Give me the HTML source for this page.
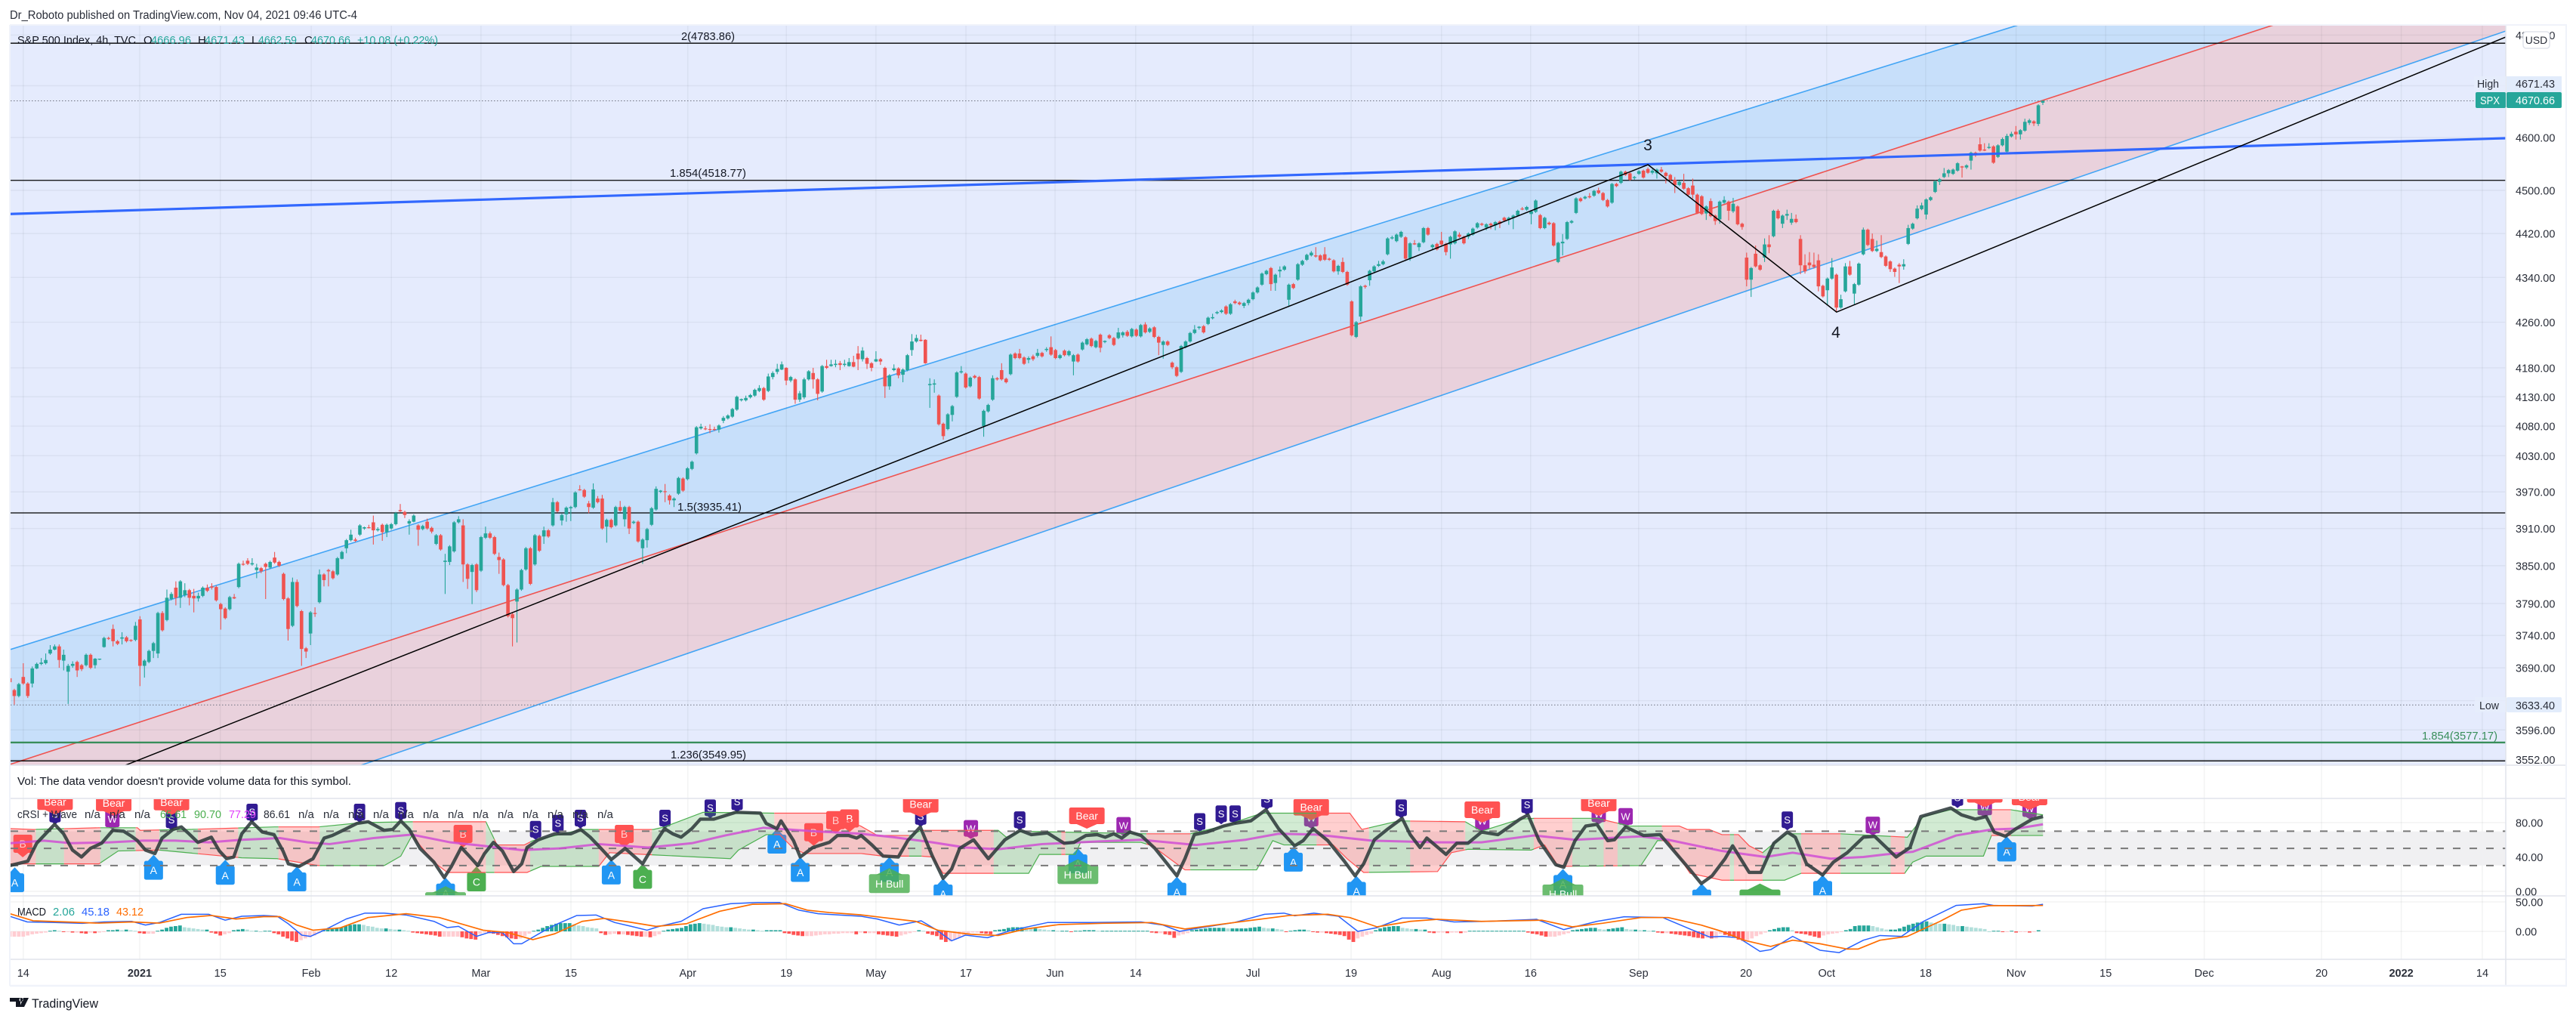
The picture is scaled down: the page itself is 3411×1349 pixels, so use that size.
<!DOCTYPE html>
<html lang="en">
<head>
<meta charset="utf-8">
<title>S&amp;P 500 Index 4h chart</title>
<style>
html,body{margin:0;padding:0;background:#fff;width:3411px;height:1349px;overflow:hidden}
svg{display:block;font-family:"Liberation Sans",sans-serif}
</style>
</head>
<body>
<svg id="chart" xmlns="http://www.w3.org/2000/svg" width="3411" height="1349" viewBox="0 0 3411 1349">
<defs>
<clipPath id="priceClip"><rect x="14" y="34" width="3304" height="979"/></clipPath>
<clipPath id="crsiClip"><rect x="14" y="1058" width="3304" height="128"/></clipPath>
<clipPath id="macdClip"><rect x="14" y="1187" width="3304" height="83"/></clipPath>
</defs>
<rect x="0" y="0" width="3411" height="1349" fill="#ffffff"/>
<text x="13" y="25" font-size="15.5" fill="#2a2e39" textLength="460" lengthAdjust="spacingAndGlyphs">Dr_Roboto published on TradingView.com, Nov 04, 2021 09:46 UTC-4</text>
<rect x="14" y="34" width="3304" height="979" fill="#e5ebfd"/>
<g id="channelLayer" clip-path="url(#priceClip)"></g>
<g id="gridLayer"></g>
<rect x="14" y="1100.7" width="3304" height="45" fill="#f0f0f2"/>
<g id="levelLayer" clip-path="url(#priceClip)"></g>
<g id="candleLayer" clip-path="url(#priceClip)"></g>
<g id="drawingLayer" clip-path="url(#priceClip)"></g>
<g id="crsiLayer" clip-path="url(#crsiClip)"></g>
<g id="macdLayer" clip-path="url(#macdClip)"></g>
<g fill="none" stroke="#e0e3eb" stroke-width="1.5">
<line x1="14" y1="1013" x2="3398" y2="1013"/>
<line x1="14" y1="1057" x2="3398" y2="1057"/>
<line x1="14" y1="1186" x2="3398" y2="1186"/>
<line x1="14" y1="1270" x2="3398" y2="1270"/>
<line x1="3318" y1="34" x2="3318" y2="1304"/>
<line x1="3398" y1="33" x2="3398" y2="1305" stroke="#f0f3fa" stroke-width="2"/>
<line x1="13" y1="33" x2="3399" y2="33" stroke="#f0f3fa" stroke-width="2"/>
<line x1="13" y1="33" x2="13" y2="1305" stroke="#f0f3fa" stroke-width="2"/>
<line x1="13" y1="1305" x2="3399" y2="1305" stroke="#f0f3fa" stroke-width="2.5"/>
</g>
<g id="axisLayer"></g>

<g font-size="15">
<text x="23" y="58" fill="#131722" textLength="157" lengthAdjust="spacingAndGlyphs">S&amp;P 500 Index, 4h, TVC</text>
<text x="190" y="58" fill="#131722">O</text>
<text x="200" y="58" fill="#26a69a" textLength="53" lengthAdjust="spacingAndGlyphs">4666.96</text>
<text x="262" y="58" fill="#131722">H</text>
<text x="271" y="58" fill="#26a69a" textLength="53" lengthAdjust="spacingAndGlyphs">4671.43</text>
<text x="333" y="58" fill="#131722">L</text>
<text x="342" y="58" fill="#26a69a" textLength="51" lengthAdjust="spacingAndGlyphs">4662.59</text>
<text x="403" y="58" fill="#131722">C</text>
<text x="412" y="58" fill="#26a69a" textLength="52" lengthAdjust="spacingAndGlyphs">4670.66</text>
<text x="473" y="58" fill="#26a69a" textLength="107" lengthAdjust="spacingAndGlyphs">+10.08 (+0.22%)</text>
</g>

<g font-size="15" fill="#131722">
<text x="902" y="53" textLength="71" lengthAdjust="spacingAndGlyphs">2(4783.86)</text>
<text x="887" y="234" textLength="101" lengthAdjust="spacingAndGlyphs">1.854(4518.77)</text>
<text x="897" y="676" textLength="85" lengthAdjust="spacingAndGlyphs">1.5(3935.41)</text>
<text x="888" y="1004" textLength="100" lengthAdjust="spacingAndGlyphs">1.236(3549.95)</text>
<text x="3207" y="979" fill="#388e5a" textLength="100" lengthAdjust="spacingAndGlyphs">1.854(3577.17)</text>
</g>
<text x="2182" y="199" font-size="21" fill="#131722" text-anchor="middle">3</text>
<text x="2431" y="447" font-size="21" fill="#131722" text-anchor="middle">4</text>

<text x="23" y="1039" font-size="15" fill="#131722" textLength="442" lengthAdjust="spacingAndGlyphs">Vol: The data vendor doesn't provide volume data for this symbol.</text>

<g font-size="15" fill="#2a2e39">
<text x="23" y="1083" textLength="79" lengthAdjust="spacingAndGlyphs">cRSI + Wave</text>
<text x="112" y="1083">n/a</text>
<text x="145" y="1083">n/a</text>
<text x="178" y="1083">n/a</text>
<text x="212" y="1083" fill="#4caf50" textLength="35" lengthAdjust="spacingAndGlyphs">65.61</text>
<text x="257" y="1083" fill="#4caf50" textLength="36" lengthAdjust="spacingAndGlyphs">90.70</text>
<text x="303" y="1083" fill="#e040fb" textLength="36" lengthAdjust="spacingAndGlyphs">77.29</text>
<text x="349" y="1083" textLength="35" lengthAdjust="spacingAndGlyphs">86.61</text>
<text x="395" y="1083">n/a</text>
<text x="428" y="1083">n/a</text>
<text x="461" y="1083">n/a</text>
<text x="494" y="1083">n/a</text>
<text x="527" y="1083">n/a</text>
<text x="560" y="1083">n/a</text>
<text x="593" y="1083">n/a</text>
<text x="626" y="1083">n/a</text>
<text x="659" y="1083">n/a</text>
<text x="692" y="1083">n/a</text>
<text x="725" y="1083">n/a</text>
<text x="758" y="1083">n/a</text>
<text x="791" y="1083">n/a</text>
</g>

<g font-size="15">
<text x="23" y="1212" fill="#131722" textLength="38" lengthAdjust="spacingAndGlyphs">MACD</text>
<text x="70" y="1212" fill="#26a69a" textLength="29" lengthAdjust="spacingAndGlyphs">2.06</text>
<text x="108" y="1212" fill="#2962ff" textLength="37" lengthAdjust="spacingAndGlyphs">45.18</text>
<text x="154" y="1212" fill="#ff6d00" textLength="36" lengthAdjust="spacingAndGlyphs">43.12</text>
</g>

<g font-size="14.5">
<rect x="3276" y="101" width="42" height="21" fill="#e6eefb" opacity=".8"/>
<text x="3280" y="116" fill="#2a2e39" textLength="29" lengthAdjust="spacingAndGlyphs">High</text>
<rect x="3319" y="101" width="73" height="21" fill="#e2ecfb"/>
<text x="3331" y="116" fill="#2a2e39" textLength="52" lengthAdjust="spacingAndGlyphs">4671.43</text>
<rect x="3278" y="122" width="40" height="21" rx="2" fill="#26a69a"/>
<text x="3284" y="138" fill="#ffffff" textLength="26" lengthAdjust="spacingAndGlyphs">SPX</text>
<rect x="3319" y="122" width="73" height="21" rx="2" fill="#26a69a"/>
<text x="3331" y="138" fill="#ffffff" textLength="52" lengthAdjust="spacingAndGlyphs">4670.66</text>
<rect x="3277" y="923" width="41" height="20" fill="#e6eefb" opacity=".8"/>
<text x="3283" y="939" fill="#2a2e39" textLength="26" lengthAdjust="spacingAndGlyphs">Low</text>
<rect x="3319" y="923" width="73" height="20" rx="2" fill="#e2ecfb"/>
<text x="3331" y="939" fill="#2a2e39" textLength="52" lengthAdjust="spacingAndGlyphs">3633.40</text>
<rect x="3341" y="42" width="35" height="22" rx="4" fill="#ffffff" stroke="#e0e3eb" stroke-width="1.5"/>
<text x="3358.5" y="58" text-anchor="middle" font-size="14" fill="#2a2e39">USD</text>
</g>

<g>
<path d="M13 1321H27V1333H21V1326H13ZM31 1321H38L32 1333H26ZM28 1321a2.5 2.5 0 1 0 .1 0Z" fill="#131722"/>
<text x="42" y="1334" font-size="17" fill="#131722" textLength="88" lengthAdjust="spacingAndGlyphs">TradingView</text>
</g>
</svg>

<script>
/* ---------- chart data, values ---------- */
const ohlcDecToJan=[
[3674,3680,3664,3668],[3656,3658,3634,3647],[3647,3667,3645,3665],[3676,3697,3664,3666],[3666,3668,3644,3647],[3666,3692,3660,3689],[3689,3698,3688,3696],[3696,3705,3694,3698],[3697,3712,3695,3702],[3712,3725,3710,3718],[3718,3726,3717,3723],[3723,3726,3690,3702],[3701,3718,3686,3710],[3684,3696,3635,3693],[3693,3700,3690,3696],[3699,3701,3676,3686],[3694,3696,3685,3688],[3694,3712,3692,3710],[3710,3712,3688,3690],[3694,3705,3689,3704],[3703,3704,3702,3704],[3722,3738,3721,3736],[3736,3738,3733,3735],[3750,3757,3723,3731],[3731,3733,3725,3727],[3735,3745,3726,3737],[3737,3739,3729,3731],[3733,3734,3730,3732],[3733,3761,3731,3755],[3765,3770,3662,3693],[3693,3703,3675,3701],[3699,3718,3697,3716],[3716,3730,3705,3728],[3712,3777,3705,3775],[3775,3778,3746,3748],[3764,3812,3762,3799],[3797,3808,3795,3805],[3815,3825,3787,3799],[3799,3827,3783,3825],[3803,3822,3800,3811],[3811,3813,3787,3799],[3802,3813,3776,3798],[3798,3807,3793,3802],[3802,3817,3800,3815],[3815,3820,3808,3810],[3817,3822,3812,3815],[3816,3818,3793,3795],[3789,3791,3749,3781],[3782,3784,3765,3767],[3781,3802,3779,3800],[3800,3805,3797,3798],[3816,3855,3814,3853],[3853,3858,3850,3852],[3858,3862,3851,3853],[3852,3862,3850,3854],[3843,3853,3830,3847],[3846,3848,3838,3841],[3853,3855,3797,3848],[3847,3858,3845,3856],[3863,3872,3853,3855],[3856,3858,3848,3850],[3837,3839,3795,3797],[3798,3800,3732,3750],[3755,3831,3753,3824],[3824,3828,3784,3786],[3778,3780,3693,3719],[3720,3722,3705,3715]];
const ohlcFebToMar=[
[3743,3778,3725,3776],[3775,3784,3769,3774],[3792,3844,3790,3836],[3836,3838,3817,3827],[3843,3845,3817,3841],[3841,3843,3828,3830],[3836,3864,3834,3862],[3861,3874,3860,3872],[3878,3893,3870,3891],[3891,3908,3889,3900],[3892,3895,3888,3890],[3900,3917,3898,3915],[3910,3913,3908,3912],[3912,3916,3910,3911],[3920,3931,3884,3907],[3907,3912,3905,3909],[3916,3918,3890,3904],[3904,3918,3896,3916],[3910,3919,3908,3917],[3917,3937,3915,3935],[3940,3950,3937,3938],[3937,3939,3927,3932],[3918,3925,3900,3922],[3921,3933,3920,3931],[3915,3917,3882,3908],[3909,3916,3907,3914],[3921,3926,3908,3910],[3911,3913,3902,3905],[3885,3901,3883,3899],[3899,3901,3874,3876],[3856,3869,3805,3858],[3856,3883,3851,3881],[3873,3922,3871,3920],[3920,3930,3918,3925],[3915,3925,3824,3852],[3852,3854,3813,3829],[3840,3853,3789,3851],[3852,3854,3808,3811],[3842,3898,3840,3896],[3895,3913,3893,3902],[3902,3905,3893,3895],[3896,3898,3867,3869],[3864,3871,3837,3859],[3860,3862,3817,3819],[3819,3821,3768,3770],[3773,3775,3723,3767],[3793,3814,3729,3812],[3812,3845,3810,3843],[3844,3880,3842,3878],[3878,3880,3819,3821],[3852,3901,3850,3899],[3898,3900,3872,3874],[3897,3913,3885,3907],[3907,3909,3895,3897]];
const ohlcMarToApr=[
[3915,3960,3913,3953],[3953,3955,3936,3938],[3923,3934,3915,3932],[3933,3946,3921,3944],[3943,3947,3922,3945],[3945,3971,3943,3969],[3974,3981,3972,3973],[3973,3975,3960,3962],[3951,3955,3935,3945],[3944,3984,3942,3974],[3959,3963,3951,3953],[3959,3965,3908,3910],[3913,3926,3887,3924],[3924,3926,3910,3912],[3915,3947,3913,3945],[3945,3955,3937,3939],[3925,3947,3913,3945],[3945,3947,3901,3910],[3919,3923,3917,3921],[3921,3923,3887,3889],[3878,3894,3853,3892],[3891,3911,3879,3909],[3916,3945,3914,3943],[3941,3979,3939,3975],[3970,3973,3968,3972],[3971,3983,3953,3970],[3964,3966,3949,3956],[3956,3961,3945,3959],[3967,3995,3965,3993],[3992,3994,3970,3972],[3991,4011,3989,4009],[4008,4022,4006,4020],[4034,4080,4032,4078],[4076,4084,4074,4079],[4076,4080,4073,4075],[4075,4083,4068,4074],[4075,4079,4072,4074],[4074,4083,4069,4081],[4089,4097,4085,4094],[4093,4100,4091,4098],[4096,4111,4094,4109],[4108,4132,4106,4130],[4124,4127,4122,4126],[4124,4132,4122,4128],[4129,4135,4127,4133],[4132,4144,4130,4142],[4140,4150,4138,4145],[4145,4147,4123,4125],[4140,4170,4138,4165]];
const ohlcAprToMay=[
[4164,4174,4160,4171],[4173,4187,4169,4178],[4177,4191,4176,4186],[4180,4181,4150,4158],[4158,4166,4155,4164],[4160,4162,4118,4125],[4125,4140,4121,4136],[4129,4163,4126,4160],[4160,4176,4158,4174],[4171,4180,4144,4160],[4160,4162,4124,4135],[4139,4185,4137,4183],[4183,4194,4178,4180],[4183,4194,4182,4186],[4185,4194,4181,4187],[4188,4192,4176,4185],[4185,4194,4182,4187],[4183,4197,4182,4190],[4190,4201,4181,4182],[4205,4218,4176,4195],[4195,4216,4191,4210],[4197,4199,4178,4187],[4188,4190,4174,4180],[4191,4209,4190,4195],[4195,4197,4185,4191],[4180,4182,4128,4148],[4148,4169,4142,4167],[4176,4186,4174,4179],[4179,4181,4162,4167],[4168,4179,4155,4177],[4176,4204,4174,4202],[4211,4239,4201,4226],[4226,4238,4224,4232],[4229,4238,4226,4227],[4229,4230,4187,4188],[4150,4162,4111,4152],[4151,4160,4137,4153],[4132,4134,4081,4083],[4084,4086,4057,4063],[4075,4102,4073,4100],[4099,4116,4088,4114],[4130,4174,4128,4172],[4172,4183,4170,4174],[4170,4172,4144,4146],[4148,4165,4146,4163],[4166,4168,4161,4163],[4164,4166,4125,4127],[4080,4108,4062,4106],[4105,4118,4103,4116],[4125,4167,4123,4162],[4162,4164,4158,4160],[4176,4188,4158,4160],[4161,4163,4153,4155]];
const ohlcJunToJul=[
[4169,4205,4167,4203],[4205,4207,4195,4197],[4205,4213,4195,4197],[4198,4200,4185,4187],[4194,4200,4188,4197],[4200,4203,4192,4195],[4201,4213,4198,4206],[4206,4208,4198,4200],[4211,4216,4208,4213],[4216,4235,4201,4203],[4211,4213,4195,4197],[4197,4204,4195,4202],[4210,4212,4200,4202],[4202,4211,4200,4209],[4191,4204,4167,4202],[4203,4205,4189,4191],[4212,4226,4210,4224],[4221,4232,4219,4230],[4231,4233,4216,4218],[4216,4229,4214,4227],[4238,4240,4207,4215],[4225,4228,4223,4227],[4237,4239,4230,4232],[4232,4234,4218,4220],[4232,4250,4230,4242],[4237,4244,4233,4242],[4243,4246,4234,4236],[4235,4250,4233,4248],[4247,4249,4234,4236],[4235,4257,4233,4255],[4256,4260,4240,4242],[4243,4251,4241,4249],[4251,4253,4232,4234],[4234,4236,4202,4224],[4220,4228,4196,4226],[4226,4228,4218,4220],[4189,4191,4178,4181],[4181,4183,4164,4166],[4173,4220,4171,4218],[4216,4228,4214,4226],[4226,4243,4224,4241],[4241,4255,4239,4247],[4250,4253,4247,4252],[4253,4255,4240,4242],[4257,4270,4255,4268],[4267,4275,4265,4269],[4276,4280,4274,4278],[4278,4283,4276,4281],[4288,4290,4273,4275],[4275,4294,4273,4292],[4297,4300,4292,4294],[4295,4297,4290,4292],[4289,4296,4285,4294],[4294,4302,4290,4300],[4301,4315,4299,4313],[4313,4324,4311,4322],[4327,4349,4325,4347],[4346,4354,4344,4352],[4357,4359,4316,4328],[4330,4347,4316,4345],[4351,4360,4340,4354],[4354,4362,4352,4360],[4300,4329,4288,4327],[4328,4330,4319,4321],[4336,4366,4334,4364],[4363,4372,4361,4370],[4372,4383,4370,4381],[4380,4388,4378,4385],[4380,4395,4376,4378],[4380,4382,4369,4371],[4382,4395,4370,4372],[4374,4376,4370,4372],[4371,4373,4349,4351],[4351,4363,4345,4361],[4368,4376,4348,4350],[4350,4352,4325,4327],[4297,4299,4235,4237]];
const ohlcJulToSep=[
[4234,4262,4232,4260],[4270,4326,4262,4324],[4325,4327,4320,4323],[4335,4354,4325,4352],[4351,4362,4349,4360],[4361,4370,4359,4364],[4364,4372,4362,4369],[4382,4413,4380,4411],[4411,4416,4409,4413],[4406,4420,4404,4418],[4414,4425,4412,4423],[4413,4415,4372,4374],[4375,4404,4370,4402],[4402,4408,4399,4400],[4395,4404,4388,4402],[4404,4432,4402,4430],[4430,4432,4416,4418],[4395,4401,4390,4399],[4401,4403,4389,4391],[4407,4423,4398,4400],[4401,4403,4380,4386],[4400,4416,4374,4414],[4402,4426,4400,4424],[4418,4422,4412,4414],[4414,4416,4400,4402],[4414,4422,4410,4420],[4418,4431,4416,4429],[4431,4441,4429,4439],[4438,4440,4434,4436],[4431,4439,4426,4437],[4438,4440,4428,4435],[4435,4443,4426,4441],[4442,4444,4430,4438],[4449,4451,4442,4444],[4445,4451,4436,4449],[4449,4455,4428,4453],[4453,4464,4451,4462],[4466,4469,4463,4465],[4464,4471,4462,4469],[4456,4463,4437,4461],[4460,4483,4458,4481],[4454,4456,4428,4430],[4430,4451,4428,4449],[4440,4442,4435,4437],[4439,4441,4396,4398],[4368,4405,4366,4403],[4402,4419,4380,4405],[4410,4443,4408,4441],[4440,4445,4438,4443],[4458,4487,4456,4485],[4485,4487,4478,4480],[4485,4490,4483,4488],[4489,4495,4485,4487],[4490,4501,4488,4499],[4500,4505,4493,4495],[4495,4497,4480,4482],[4482,4484,4468,4470],[4477,4514,4475,4512],[4512,4514,4506,4508],[4514,4537,4512,4535],[4535,4537,4527,4529],[4532,4534,4518,4520],[4523,4527,4520,4525],[4531,4538,4529,4536],[4537,4539,4522,4524],[4540,4543,4531,4533]];
const ohlcSepToNov=[
[4533,4540,4530,4537],[4532,4541,4522,4539],[4539,4544,4533,4535],[4533,4535,4513,4527],[4529,4531,4518,4520],[4520,4525,4495,4510],[4510,4518,4508,4516],[4514,4531,4501,4503],[4504,4506,4490,4492],[4509,4522,4485,4492],[4492,4494,4456,4458],[4489,4491,4454,4456],[4457,4472,4445,4470],[4480,4485,4450,4452],[4453,4455,4436,4443],[4446,4481,4438,4479],[4477,4489,4475,4482],[4479,4481,4444,4462],[4461,4486,4458,4475],[4470,4472,4435,4437],[4438,4440,4427,4432],[4376,4385,4324,4336],[4336,4359,4305,4357],[4383,4398,4358,4360],[4362,4364,4352,4354],[4376,4411,4368,4400],[4400,4417,4384,4395],[4415,4464,4413,4462],[4462,4465,4446,4448],[4438,4455,4430,4453],[4453,4464,4445,4456],[4440,4458,4436,4447],[4447,4455,4439,4441],[4410,4417,4346,4362],[4362,4382,4347,4351],[4367,4386,4355,4362],[4363,4385,4356,4359],[4371,4382,4315,4324],[4325,4327,4304,4306],[4317,4340,4290,4338],[4338,4375,4336,4358],[4345,4347,4278,4286],[4286,4309,4284,4301],[4315,4366,4313,4360],[4360,4370,4343,4345],[4311,4330,4292,4328],[4327,4367,4325,4365],[4382,4431,4380,4427],[4427,4429,4397,4399],[4410,4420,4386,4388],[4388,4407,4386,4392],[4386,4417,4375,4377],[4378,4380,4359,4361],[4369,4371,4350,4355],[4356,4358,4341,4350],[4363,4366,4330,4360],[4360,4373,4354,4364],[4401,4436,4399,4430],[4429,4440,4427,4438],[4448,4472,4446,4466],[4465,4477,4463,4472],[4455,4485,4446,4483],[4482,4489,4480,4487],[4497,4519,4495,4517],[4516,4523,4510,4521],[4525,4542,4523,4532],[4532,4540,4525,4538],[4531,4541,4529,4539],[4537,4553,4535,4551],[4545,4546,4524,4543],[4543,4549,4540,4547],[4556,4573,4539,4571],[4571,4573,4563,4567],[4587,4600,4573,4575],[4577,4589,4574,4575],[4580,4589,4578,4582],[4583,4585,4550,4552],[4563,4587,4561,4585],[4585,4600,4583,4597],[4573,4607,4571,4603],[4602,4611,4600,4607],[4611,4622,4596,4606],[4606,4616,4596,4614],[4613,4636,4611,4630],[4628,4636,4624,4633],[4631,4633,4622,4627],[4626,4664,4622,4662],[4666.96,4671.43,4662.59,4670.66]];

const priceTicks=[4800,4700,4600,4500,4420,4340,4260,4180,4130,4080,4030,3970,3910,3850,3790,3740,3690,3640,3596,3552];
const timeTickLabels=["14","2021","15","Feb","12","Mar","15","Apr","19","May","17","Jun","14","Jul","19","Aug","16","Sep","20","Oct","18","Nov","15","Dec","20","2022","14"];
const timeTickBars=[3,29,47,67.3,85.2,105.2,125.3,151.4,173.4,193.4,213.5,233.4,251.4,277.6,299.5,319.7,339.6,363.7,387.7,405.7,427.8,448,468,490,516.2,534,552.1];
const boldTimeTicks=["2021","2022"];

const fibLevels=[4783.86,4518.77,3935.41,3549.95];
const greenFibLevel=[3577.17];
const dottedLevels=[4670.66,3633.40];

const channelUpperBars=[0,382.3];
const channelUpperPrices=[3718,4639];
const channelMiddleBars=[6.2,505.4];
const channelMiddlePrices=[3558,4820];
const channelLowerBars=[84.8,557.3];
const channelLowerPrices=[3558,4808];
const waveBars=[25.6,365.8,407.9,557.3];
const wavePrices=[3543,4548.3,4278,4796];
const thickTrendBars=[0,557.3];
const thickTrendPrices=[4456,4598.6];

const crsiBars=[0,4,6,10,12,14,16,18,20.5,23,25.4,27.2,28.5,30.3,32.4,34,36.4,38.3,40,42,45,46.8,48.4,50,51.8,54,56.4,59,61,62.2,64.6,67.7,70.2,72,74,77.5,80,83.6,85.5,87.3,89.2,91.6,94.7,97,98.6,100.8,102.6,104.5,106,108,110,112.5,114.3,115.5,118,121.7,125.3,127.5,129.6,132,134.3,137.4,141.3,143.7,146.2,148,149.9,152.3,154.2,157.2,162.1,167.6,168.9,171.3,172.2,175,176.5,179.3,183,184.8,187.3,189.1,190.1,192.5,195,198.4,200.5,203.3,206,208.4,210.3,212.1,215.2,218.5,222.2,225.6,228.1,231.7,235.4,237.6,240.3,242.8,244.6,246.5,248.3,250.1,252.6,255.7,260.6,262.4,264.5,267.3,271,273.4,277.1,280.5,283.3,286.9,288.8,291,294.3,298,300.4,302.3,304.7,307.8,310.9,312.7,314.9,316.4,320.7,323.1,325.6,328.6,332.3,337.2,339,341.5,345.2,347,349.5,351.9,354.4,356.8,358.3,360.8,364.8,368.5,371.6,375.2,377.7,380.1,383,384.7,388.4,391,393.9,396.9,398.7,401.2,404.8,407.2,410.3,413.9,416.4,421.2,424.3,426.7,433.4,435.8,438.9,441.3,443.1,445.6,448,451.6,454];
const crsiValues=[30,35,56,78,67,48,40,50,56,71,70,64,59,48,44,62,72,75,67,57,63,47,38,40,67,81,69,66,47,32,29,38,62,65,70,79,81,71,72,82,72,50,34,16,29,51,41,30,44,57,47,23,32,51,60,67,67,72,63,50,37,50,32,53,73,67,63,73,84,84,92,91,79,73,82,59,40,51,57,65,65,62,65,54,41,40,59,75,41,15,26,50,60,38,60,71,66,68,56,57,65,66,63,67,62,69,65,50,18,38,66,69,76,79,82,95,73,53,59,73,59,35,18,32,60,73,85,66,51,62,43,56,56,69,66,84,89,59,31,28,59,76,78,59,60,75,65,66,47,25,9,18,38,53,22,22,56,69,63,32,19,34,45,63,64,40,51,87,97,89,84,87,69,64,73,84,87];
const crsiAvgBars=[0,7.6,13.7,22.3,29.7,37,44.4,51.8,60.3,66.5,71.4,81.2,89.8,98.4,105.7,114.3,122.9,131.5,142.5,152.3,159.7,168.3,179.3,190.1,197.4,206,213.4,220.7,230.5,242.8,252.6,264.9,275.9,283.3,291.8,304.1,318.8,328.6,340.3,349.5,364.2,370.3,382.3,392,398.1,406.6,413.9,418.8,424.9,434.6,442.5,448,454];
const crsiAvgValues=[56,59,56,57,59,59,57,60,62,57,55,62,66,57,53,48,50,55,51,56,65,74,70,67,63,57,51,49,55,58,60,54,60,67,66,59,57,57,65,60,64,60,47,40,45,38,40,43,46,65,72,73,78];
const bandUpperBars=[0,5.2,19.9,28.5,29.1,39.5,59.1,68.9,78.7,89.8,106.3,108.8,114.9,116.8,127.8,143.7,146.2,154.8,170.7,182.4,184.2,190,193.7,201.1,203.5,220.7,222.5,225.6,253.8,263.6,266.1,271,279.6,299.2,301.9,310.2,325,328.6,337.2,340.6,354.4,361.7,372.8,374.6,379.5,382.3,386,388.4,391.4,393.9,396.9,408.8,423.7,427.3,433.4,446.8,454];
const bandUpperValues=[73,72,74,74,71,72,75,75,80,81,81,54,54,59,72,72,75,92,91,91,88,76,65,65,71,71,63,70,67,67,70,76,91,91,72,82,81,70,84,85,85,76,76,72,72,66,66,53,45,56,67,67,63,87,95,95,89];
const bandLowerBars=[0,19.9,24.2,33.4,51.8,59.7,68.9,83.6,87.3,89.8,94.7,97.7,115.5,118.6,131.5,133.9,160.9,162.7,168.9,171.9,175,177.5,190.1,195,203.5,206,208.4,227.5,229.9,237.9,239.1,252.6,255.1,262.4,278.4,282,284.5,295.5,298.6,302.3,318.8,321.9,325.6,339.7,342.7,345.8,364.2,367.9,370.3,375.2,382.3,396.3,400,423.1,424.9,427.9,440.7,442.5,454];
const bandLowerValues=[32,32,47,48,39,38,30,30,41,65,34,22,22,29,29,45,38,48,66,66,50,44,44,41,41,40,21,21,43,43,57,57,53,25,25,59,54,54,38,22,23,45,49,48,54,29,30,59,59,21,13,13,21,21,34,41,41,65,65];
const bandBreakBars=[0,5.8,12.1,20.2,28.1,33.4,42,51,60,69.2,90,106.3,108.2,116.2,131.5,143.4,170.7,200.8,203.6,219.7,234.8,235.7,253.8,263.6,291.8,303.5,312.7,325,340.3,348.9,355.9,359,368.9,384.1,385,391.4,400,408.8,420,423.1,442.5,446.8,454.2];
const crsiGuideLevels=[70,50,30];
const crsiTicks=[80,40,0];

const markerKinds=["B","A","S","Bear","W","Bear","S","Bear","A","A","S","A","S","S","A","H Bull","B","C","S","S","S","B","A","C","S","S","S","A","B","B","B","A","A","H Bull","S","Bear","A","W","A","S","A","H Bull","W","Bear","S","S","S","S","W","A","A","Bear","S","A","A","W","S","H Bull","A","W","S","W","Bear","W","Bear","W","A","S","A","H Bull","A","A","S","H Bull","W","S","W","Bear","W","Bear","A"];
const markerBars=[2.9,1.1,10.1,10.1,22.9,23.2,36.1,36.1,32.1,48.1,54.1,64.1,78.1,87.3,97.3,97.3,101.2,104.2,117.4,122.4,127.4,137.2,134.3,141.3,146.3,156.4,162.4,171.3,179.5,184.4,187.5,176.5,196.4,196.4,203.4,203.4,208.4,214.6,260.6,225.5,238.5,238.5,248.7,240.5,265.7,270.5,273.6,280.7,290.6,286.6,300.7,290.6,310.7,346.8,377.8,328.8,338.8,346.8,404.8,354.8,396.9,360.8,328.8,416,354.8,441,445.9,434.9,404.8,390.8,445.9,208.4,225.5,390.8,441,434.9,451,441,451,451,445.9];
const markerTips=[39.6,28,77.7,89.4,72,88,71,89,42.5,36.7,80,29,80,82,16,6,51,29,60,67,73,51,37,32,73,85,92,73,53,67,69,40,40,27,75,86.5,15,61,17,71,50,37.5,64.5,73,69,78,78,95,73,52,18,83,85,26,9,69.5,88.6,15,19,78,71,75,80,65,88,86,64,97,19,9,64,15,71,9,86,97,84,98,95,95,64];

const macdBars=[0,3.9,10.1,16.2,21.1,27.2,30.3,33.4,38.3,44.4,48.1,51.8,56.7,59.7,62.2,65.2,67.1,70.2,75.1,79.3,83.6,88.5,94.7,97.7,100.2,104.2,106.9,110,112.5,114.3,118.6,122.3,126.6,130.9,135.1,138.8,142.3,145,149.9,154.8,160.9,167,171.9,176.2,180.5,185.4,190.1,193.7,198.6,203.5,206.6,210.3,213.4,218.3,223.8,231.7,241.6,252.6,257.5,261.2,266.1,273.4,280.2,284.5,286.9,291.2,296.7,301,305.3,310.9,316.4,322.5,329.9,340.9,347,354.4,360.5,369.1,375.2,379.5,382.3,386,390.8,393.2,398.1,404.2,408.5,413.9,417.6,422.4,427.3,434.6,440.7,443.1,451.6,454];
const macdValues=[25.6,16,15,13.7,16,17,10.7,15,29,29,19,25.6,27,25.6,12.8,-6.4,-8.5,2,21,31,31,27.8,17,6.4,8.5,-8.5,-2,-2,-21,-21,-2,12.8,27,27.8,15,8.5,2,8.5,17,38.5,47,49,49,36,30,27.8,25.6,21,10.7,18,4,-16,-6.4,-10.7,2,15,15,16,10.7,0,6.4,15,29,31,26.5,31,25.6,0,6.4,22.6,22.6,16,17,20.5,3,17,24.8,23.5,4,-9.4,-8.5,-10.7,-34,-31,-8.5,-32,-36,-15,-7,-8.5,17,44,47,44,43,46];
const signalBars=[0,5.2,12.5,19.9,27.2,33.4,39.5,45,50.5,56.7,60.3,64,67.7,73.8,80,88.5,95.9,105.7,111.2,116.8,121.7,127.8,132.7,138.2,144.3,151.1,158.5,165.8,173.2,178.1,183,190.1,195,202.3,207.2,214.6,220.7,226.8,234.2,244,255,262.4,273.4,285.7,294.3,299.2,305.3,312.7,318.8,328.6,342.1,348.9,355.6,364.2,370.3,377.7,382.3,387.2,393.2,398.1,404.2,410.3,412.7,417.6,423.7,431,435.8,441.9,454];
const signalValues=[30,18,16,14,16,14,23.5,27,21,25,25,11,2,6,23.5,30,23.5,2,-2,-14,-4,17,22,16,8.5,13,34,46,47,36,32,28,23.5,17,2,-5,-7,4,11.5,13.7,15,4,15,27,29,23.5,7.7,17,20.5,17,19,7.7,13.7,23.5,23.5,10.7,0,-15,-25.6,-15,-21,-30,-30,-15,-8.5,17,36,43.6,44];
const histogramFirstPart=[-9,-9,-9,-9,-7,-5,-4,-3,-2,1,2,1,-1,-1,-2,-2,-3,-4,-2,-3,-2,-1,2,2,3,2,3,2,1,-3,-4,-4,-4,1,3,6,8,9,10,7,6,5,4,3,3,-2,-4,-7,-5,-3,2,3,4,3,1,1,0,1,1,-3,-5,-9,-12,-16,-18,-15,-12,-10,-7,-3,2,3,4,5,7,9,11,12,12,11,9,8,6,5,5,4,3,3,2,1,-2,-3,-4,-5,-6,-7,-9,-9,-9,-9,-9,-10,-12,-13,-14,-4,-2,-3,-4,-6,-8,-10,-12,-13,-12,-8,-4,1,3,6,9,11,13,14,14,14,12,10,9,7,6,5,-3,-6,-5,-4,-5,-5,-6,-7,-8,-9,-9,-10,-8,-5,1,3,4,5,6,9,12,13,14,13,12,11,9,8,7,7,6,5,4,3,3,2,1,2,2,2,2,-3,-4,-6,-7,-8,-8,-8,-7,-6,-5,-5,-4,-4,-3,-3,-3,-5];
const histogramSecondPart=[-2,-3,-3,-3,-5,-6,-7,-8,-9,-7,-5,-3,-1,2,1,-4,-6,-8,-14,-18,-17,-14,-11,-7,-4,-2,-2,-3,-4,-5,2,3,4,6,7,7,7,6,5,5,4,3,2,2,1,1,1,-1,1,1,2,2,2,1,1,1,1,1,1,1,1,1,1,1,1,-2,-3,-3,-5,-6,-11,-7,-5,-3,2,3,4,5,6,6,6,6,5,5,5,5,5,6,7,8,6,5,5,4,3,-1,1,2,3,3,2,-1,-2,-2,-3,-4,-5,-6,-8,-14,-18,-12,-9,-6,-4,2,5,7,8,9,9,6,5,4,4,3,3,-2,-3,-2,-2,-3,-2,-2,-3,-2,1,1,1,1,1,1,1,1,1,1,1,1,1,-2,-4,-5,-7,-9,-9,-9,-7,-5,-3,2,3,4,5,6,6,4,3,4,5,6,7,4,3,3,2,2,1,1,-2,-3,-3,-4,-5,-6,-7,-8,-10,-11,-12,-11,-12,-12];
const histogramThirdPart=[-4,-6,-8,-9,-14,-16,-15,-12,-8,-5,-2,2,4,6,7,7,2,-3,-4,-5,-7,-9,-11,-7,-5,-4,-3,-1,2,4,9,10,10,10,9,7,5,3,3,3,5,8,11,13,15,16,17,15,14,13,13,12,11,9,9,8,7,6,5,4,0,1,1,-1,-1,1,-2,-1,-1,-2,-1,2];
const macdTicks=[50,0];

/* ---------- axis functions ---------- */
const allCandles=[].concat(ohlcDecToJan,ohlcFebToMar,ohlcMarToApr,ohlcAprToMay,ohlcJunToJul,ohlcJulToSep,ohlcSepToNov);
const priceY=p=>182+3185*Math.log(4600/p);
const barX=i=>13+5.93*i;
const candleX=i=>13+i*(2692/(allCandles.length-1));
const crsiY=v=>1180-1.1375*v;
const macdY=v=>1233-0.78*v;

const NS="http://www.w3.org/2000/svg";
function svgEl(tag,attrs,parent){
  const el=document.createElementNS(NS,tag);
  for(const k in attrs){el.setAttribute(k,attrs[k]);}
  parent.appendChild(el);
  return el;
}
const channelLayer=document.getElementById("channelLayer");
const gridLayer=document.getElementById("gridLayer");
const levelLayer=document.getElementById("levelLayer");
const candleLayer=document.getElementById("candleLayer");
const drawingLayer=document.getElementById("drawingLayer");
const crsiLayer=document.getElementById("crsiLayer");
const macdLayer=document.getElementById("macdLayer");
const axisLayer=document.getElementById("axisLayer");
const defs=document.querySelector("svg defs");

/* ---------- channels ---------- */
function lineThrough(bars,prices,x){
  const x0=barX(bars[0]),y0=priceY(prices[0]),x1=barX(bars[1]),y1=priceY(prices[1]);
  return y0+(y1-y0)*(x-x0)/(x1-x0);
}
const leftEdge=14,rightEdge=3318;
function channelBand(topB,topP,botB,botP,fill,name){
  const pts=[[leftEdge,lineThrough(topB,topP,leftEdge)],[rightEdge,lineThrough(topB,topP,rightEdge)],[rightEdge,lineThrough(botB,botP,rightEdge)],[leftEdge,lineThrough(botB,botP,leftEdge)]];
  const band=svgEl("polygon",{points:pts.map(p=>p.join(",")).join(" "),fill:fill},channelLayer);
  
  
}
channelBand(channelUpperBars,channelUpperPrices,channelMiddleBars,channelMiddlePrices,"#c7dffa","channel-upper-band");
channelBand(channelMiddleBars,channelMiddlePrices,channelLowerBars,channelLowerPrices,"#e9d1dc","channel-lower-band");
function channelLine(bars,prices,color,name){
  const ln=svgEl("line",{x1:leftEdge,y1:lineThrough(bars,prices,leftEdge),x2:rightEdge,y2:lineThrough(bars,prices,rightEdge),stroke:color,"stroke-width":1.6},channelLayer);
  
  
}
channelLine(channelUpperBars,channelUpperPrices,"#42a5f5","channel-upper-line");
channelLine(channelMiddleBars,channelMiddlePrices,"#ef5350","channel-middle-line");
channelLine(channelLowerBars,channelLowerPrices,"#42a5f5","channel-lower-line");

/* ---------- grid and axes ---------- */
priceTicks.forEach(p=>{
  const ln=svgEl("line",{x1:14,y1:priceY(p),x2:3318,y2:priceY(p),stroke:"rgba(42,46,57,.06)","stroke-width":1.4},gridLayer);
  
  
  const t=svgEl("text",{x:3331,y:priceY(p)+5.5,"font-size":14.5,fill:"#2a2e39"},axisLayer);
  
  
  t.textContent=p.toFixed(2);
});
timeTickBars.forEach((b,i)=>{
  const x=barX(b);
  const ln=svgEl("line",{x1:x,y1:34,x2:x,y2:1270,stroke:"rgba(42,46,57,.06)","stroke-width":1.4},gridLayer);
  
  
  const lab=timeTickLabels[i];
  const t=svgEl("text",{x:x,y:1293,"text-anchor":"middle","font-size":14.5,fill:"#2a2e39","font-weight":boldTimeTicks.includes(lab)?"bold":"normal"},axisLayer);
  
  
  t.textContent=lab;
});
crsiTicks.forEach(v=>{
  const ln=svgEl("line",{x1:14,y1:crsiY(v),x2:3318,y2:crsiY(v),stroke:"rgba(42,46,57,.06)","stroke-width":1.4},gridLayer);
  
  
  const t=svgEl("text",{x:3331,y:crsiY(v)+5.5,"font-size":14.5,fill:"#2a2e39"},axisLayer);
  
  
  t.textContent=v.toFixed(2);
});
macdTicks.forEach(v=>{
  const ln=svgEl("line",{x1:14,y1:macdY(v),x2:3318,y2:macdY(v),stroke:"rgba(42,46,57,.06)","stroke-width":1.4},gridLayer);
  
  
  const t=svgEl("text",{x:3331,y:macdY(v)+5.5,"font-size":14.5,fill:"#2a2e39"},axisLayer);
  
  
  t.textContent=v.toFixed(2);
});

/* ---------- horizontal levels ---------- */
fibLevels.forEach(p=>{
  const ln=svgEl("line",{x1:14,y1:priceY(p),x2:3318,y2:priceY(p),stroke:"#000000","stroke-width":1.3},levelLayer);
  
  
});
greenFibLevel.forEach(p=>{
  const ln=svgEl("line",{x1:14,y1:priceY(p),x2:3318,y2:priceY(p),stroke:"#388e5a","stroke-width":2.4},levelLayer);
  
  
});
dottedLevels.forEach(p=>{
  const ln=svgEl("line",{x1:14,y1:priceY(p),x2:3276,y2:priceY(p),stroke:"#6f7280","stroke-width":1,"stroke-dasharray":"1.5 2.5"},levelLayer);
  
  
});

/* ---------- candles ---------- */
allCandles.forEach((c,i)=>{
  const x=candleX(i);
  const up=c[3]>=c[0];
  const color=up?"#26a69a":"#ef5350";
  const wick=svgEl("line",{x1:x,y1:priceY(c[1]),x2:x,y2:priceY(c[2]),stroke:color,"stroke-width":1.1},candleLayer);
  
  
  const top=priceY(Math.max(c[0],c[3]));
  const bot=priceY(Math.min(c[0],c[3]));
  const body=svgEl("rect",{x:x-2.3,y:top,width:4.6,height:Math.max(bot-top,1.2),fill:color},candleLayer);
  
  
});

/* ---------- drawings ---------- */
const thick=svgEl("line",{x1:barX(thickTrendBars[0]),y1:priceY(thickTrendPrices[0]),x2:barX(thickTrendBars[1]),y2:priceY(thickTrendPrices[1]),stroke:"#2962ff","stroke-width":3.2,opacity:.95},drawingLayer);


const wave=svgEl("polyline",{points:waveBars.map((b,i)=>barX(b)+","+priceY(wavePrices[i])).join(" "),fill:"none",stroke:"#000000","stroke-width":1.5},drawingLayer);



/* ---------- cRSI pane ---------- */
const markerStyle={
  "S":{w:15,h:22,tip:3,fill:"#311b92",up:false,fs:13},
  "W":{w:19,h:22,tip:3,fill:"#9c27b0",up:false,fs:13},
  "B":{w:25,h:24,tip:6,fill:"#ff5252",up:false,fs:14},
  "Bear":{w:47,h:22,tip:6,fill:"#ff5252",up:false,fs:14},
  "A":{w:25,h:25,tip:8,fill:"#2196f3",up:true,fs:14},
  "C":{w:25,h:25,tip:8,fill:"#4caf50",up:true,fs:14},
  "H Bull":{w:54,h:25,tip:8,fill:"#4caf50",up:true,fs:14}
};
markerKinds.forEach((kind,i)=>{
  const st=markerStyle[kind];
  const x=barX(markerBars[i]);
  const tipY=crsiY(markerTips[i]);
  const rectTop=st.up?tipY+st.tip:tipY-st.tip-st.h;
  const baseY=st.up?rectTop+1:rectTop+st.h-1;
  const opacity=kind==="H Bull"?.82:1;
  const arrow=svgEl("polygon",{points:(x-st.w/3)+","+baseY+" "+(x+st.w/3)+","+baseY+" "+x+","+tipY,fill:st.fill,opacity:opacity},crsiLayer);
  
  
  const box=svgEl("rect",{x:x-st.w/2,y:rectTop,width:st.w,height:st.h,rx:2.5,fill:st.fill,opacity:opacity},crsiLayer);
  
  
  const t=svgEl("text",{x:x,y:rectTop+st.h/2+st.fs*0.36,"text-anchor":"middle","font-size":st.fs,fill:"#ffffff"},crsiLayer);
  
  
  t.textContent=kind;
});

const bandPolygon=bandUpperBars.map((b,i)=>barX(b)+","+crsiY(bandUpperValues[i])).concat(bandLowerBars.map((b,i)=>barX(b)+","+crsiY(bandLowerValues[i])).reverse()).join(" ");
const bandUpperPts=bandUpperBars.map((b,i)=>barX(b)+","+crsiY(bandUpperValues[i])).join(" ");
const bandLowerPts=bandLowerBars.map((b,i)=>barX(b)+","+crsiY(bandLowerValues[i])).join(" ");
for(let s=0;s<bandBreakBars.length-1;s++){
  const isRed=s%2===0;
  const clipId="bandClip"+s;
  const clip=svgEl("clipPath",{id:clipId},defs);
  svgEl("rect",{x:barX(bandBreakBars[s]),y:1050,width:barX(bandBreakBars[s+1])-barX(bandBreakBars[s]),height:140},clip);
  const seg=svgEl("polygon",{points:bandPolygon,fill:isRed?"rgba(255,82,82,.28)":"rgba(76,175,80,.25)","clip-path":"url(#"+clipId+")"},crsiLayer);
  
  
  const edgeTop=svgEl("polyline",{points:bandUpperPts,fill:"none",stroke:isRed?"#ff5252":"#4caf50","stroke-width":1.2,"clip-path":"url(#"+clipId+")"},crsiLayer);
  
  
  const edgeBot=svgEl("polyline",{points:bandLowerPts,fill:"none",stroke:isRed?"#ff5252":"#4caf50","stroke-width":1.2,"clip-path":"url(#"+clipId+")"},crsiLayer);
  
  
}
crsiGuideLevels.forEach(v=>{
  const ln=svgEl("line",{x1:14,y1:crsiY(v),x2:3318,y2:crsiY(v),stroke:"#787878","stroke-width":2,"stroke-dasharray":"10 12"},crsiLayer);
  
  
});
const crsiAvgLine=svgEl("polyline",{points:crsiAvgBars.map((b,i)=>barX(b)+","+crsiY(crsiAvgValues[i])).join(" "),fill:"none",stroke:"#d04fd4","stroke-width":3,opacity:.85,"stroke-linejoin":"round"},crsiLayer);


const crsiLine=svgEl("polyline",{points:crsiBars.map((b,i)=>barX(b)+","+crsiY(crsiValues[i])).join(" "),fill:"none",stroke:"#2f3b3c","stroke-width":4.4,opacity:.88,"stroke-linejoin":"round"},crsiLayer);



/* ---------- MACD pane ---------- */
function drawHistogram(values,firstBar){
  values.forEach((v,k)=>{
    const prev=k>0?values[k-1]:v;
    let fill;
    if(v>=0){fill=v>=prev?"#26a69a":"#b2dfdb";}else{fill=v<prev?"#ff5252":"#ffcdd2";}
    const y0=macdY(0),y1=macdY(v);
    const bar=svgEl("rect",{x:barX(firstBar+k)-2.4,y:Math.min(y0,y1),width:4.8,height:Math.max(Math.abs(y1-y0),1),fill:fill},macdLayer);
    
    
  });
}
drawHistogram(histogramFirstPart,0);
drawHistogram(histogramSecondPart,190);
drawHistogram(histogramThirdPart,382);
const macdLine=svgEl("polyline",{points:macdBars.map((b,i)=>barX(b)+","+macdY(macdValues[i])).join(" "),fill:"none",stroke:"#2962ff","stroke-width":1.5,"stroke-linejoin":"round"},macdLayer);


const signalLine=svgEl("polyline",{points:signalBars.map((b,i)=>barX(b)+","+macdY(signalValues[i])).join(" "),fill:"none",stroke:"#ff6d00","stroke-width":1.7,"stroke-linejoin":"round"},macdLayer);


</script>
</body>
</html>
